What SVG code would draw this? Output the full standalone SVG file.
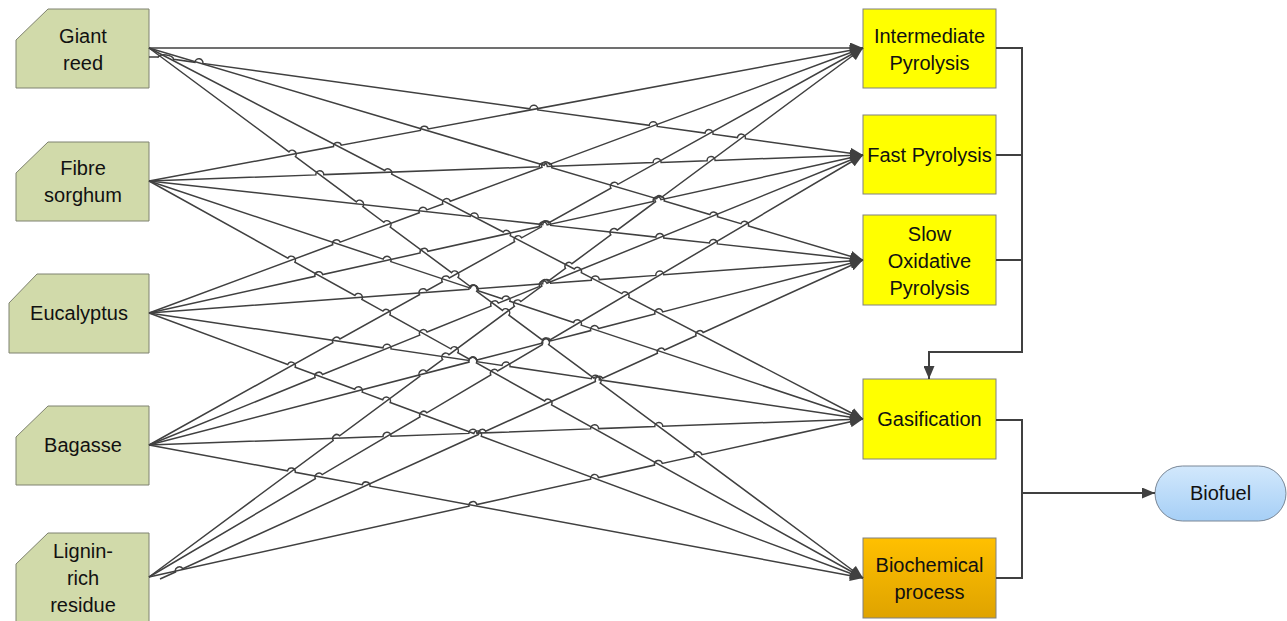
<svg xmlns="http://www.w3.org/2000/svg" width="1287" height="621" viewBox="0 0 1287 621">
  <defs>
    <style>
      .src { fill: #d1daaa; stroke: #7f8270; stroke-width: 1; }
      .proc { fill: #ffff00; stroke: #808080; stroke-width: 1; }
      .lbl { font-family: "Liberation Sans", Arial, sans-serif; font-size: 20px; fill: #111; text-anchor: middle; }
      .fan path { fill: none; stroke: #404040; stroke-width: 1.5; marker-end: url(#arrow); }
      .trunk path { fill: none; stroke: #404040; stroke-width: 2; }
      .trunk path.to { marker-end: url(#arrow); }
    </style>
    <marker id="arrow" markerUnits="userSpaceOnUse" markerWidth="13" markerHeight="11" refX="13" refY="5.5" orient="auto">
      <path d="M0,0 L13,5.5 L0,11 Z" fill="#404040"/>
    </marker>
    <linearGradient id="orange" x1="0" y1="0" x2="0" y2="1">
      <stop offset="0" stop-color="#ffc000"/>
      <stop offset="1" stop-color="#dfa300"/>
    </linearGradient>
    <linearGradient id="blue" x1="0" y1="0" x2="0" y2="1">
      <stop offset="0" stop-color="#d2e8fc"/>
      <stop offset="1" stop-color="#a6cff6"/>
    </linearGradient>
  </defs>

  <!-- feedstocks -->
  <g id="giant-reed">
    <path class="src" d="M16,40 L48,9 H149 V88 H16 Z"/>
    <text class="lbl" x="83" y="43">Giant</text>
    <text class="lbl" x="83" y="70">reed</text>
  </g>
  <g id="fibre-sorghum">
    <path class="src" d="M16,173 L48,142 H149 V221 H16 Z"/>
    <text class="lbl" x="83" y="175">Fibre</text>
    <text class="lbl" x="83" y="202">sorghum</text>
  </g>
  <g id="eucalyptus">
    <path class="src" d="M9,303 L37,274 H149 V353 H9 Z"/>
    <text class="lbl" x="79" y="320">Eucalyptus</text>
  </g>
  <g id="bagasse">
    <path class="src" d="M16,437 L48,406 H149 V485 H16 Z"/>
    <text class="lbl" x="83" y="452">Bagasse</text>
  </g>
  <g id="lignin-rich-residue">
    <path class="src" d="M16,564 L48,533 H149 V623 H16 Z"/>
    <text class="lbl" x="83" y="558">Lignin-</text>
    <text class="lbl" x="83" y="585">rich</text>
    <text class="lbl" x="83" y="612">residue</text>
  </g>

  <!-- conversion routes -->
  <g id="intermediate-pyrolysis">
    <rect class="proc" x="863" y="9" width="133" height="79"/>
    <text class="lbl" x="929.5" y="43">Intermediate</text>
    <text class="lbl" x="929.5" y="70">Pyrolysis</text>
  </g>
  <g id="fast-pyrolysis">
    <rect class="proc" x="863" y="115" width="133" height="79"/>
    <text class="lbl" x="929.5" y="162">Fast Pyrolysis</text>
  </g>
  <g id="slow-oxidative-pyrolysis">
    <rect class="proc" x="863" y="215" width="133" height="90"/>
    <text class="lbl" x="929.5" y="241">Slow</text>
    <text class="lbl" x="929.5" y="268">Oxidative</text>
    <text class="lbl" x="929.5" y="295">Pyrolysis</text>
  </g>
  <g id="gasification">
    <rect class="proc" x="863" y="379" width="133" height="80"/>
    <text class="lbl" x="929.5" y="426">Gasification</text>
  </g>
  <g id="biochemical-process">
    <rect x="863" y="538" width="133" height="80" fill="url(#orange)" stroke="#808080" stroke-width="1"/>
    <text class="lbl" x="929.5" y="572">Biochemical</text>
    <text class="lbl" x="929.5" y="599">process</text>
  </g>

  <!-- product -->
  <g id="biofuel">
    <rect x="1155" y="466" width="131" height="55" rx="27.5" ry="27.5" fill="url(#blue)" stroke="#7a8796" stroke-width="1"/>
    <text class="lbl" x="1220.5" y="500">Biofuel</text>
  </g>

  <!-- feedstock-to-route links, with line jumps at crossings -->
  <g id="connectors" class="fan">
    <path d="M149,48 H863"/>
    <path d="M149,57 H157 L158.1,57.2 A8 4 8 0 1 173.7,59.3 L194.9,62.3 A4 4 0 0 1 202.9,63.4 L529.8,108.8 A4 4 0 0 1 537.8,109.9 L649.2,125.3 A4 4 0 0 1 657.2,126.4 L705,133.1 A4 4 0 0 1 713,134.2 L737.4,137.6 A4 4 0 0 1 745.4,138.7 L863,155"/>
    <path d="M149,48 L544.2,165.3 A4 4 0 0 1 551.8,167.6 L656.6,198.7 A4 4 0 0 1 664.2,201 L709.9,214.5 A4 4 0 0 1 717.5,216.8 L740.9,223.7 A4 4 0 0 1 748.5,226 L863,260"/>
    <path d="M149,48 L384.7,170.5 A4 4 0 0 1 391.7,174.1 L503.2,232 A4 4 0 0 1 510.2,235.7 L574.3,269 A4 4 0 0 1 581.3,272.6 L621.8,293.6 A4 4 0 0 1 628.8,297.3 L863,419"/>
    <path d="M149,48 L289,151.9 A4 4 0 0 1 295.4,156.7 L356.4,201.9 A4 4 0 0 1 362.8,206.7 L383.8,222.3 A4 4 0 0 1 390.2,227.1 L451.6,272.6 A4 4 0 0 1 458,277.4 L470.3,286.5 A4 4 0 0 1 476.7,291.3 L502.5,310.4 A4 4 0 0 1 508.9,315.2 L542.2,339.9 A4 4 0 0 1 548.6,344.7 L593.9,378.2 A4 4 0 0 1 600.3,383 L863,578"/>

    <path d="M149,181 L333.5,146.6 A4 4 0 0 1 341.3,145.2 L420.4,130.4 A4 4 0 0 1 428.2,129 L863,48"/>
    <path d="M149,181 L315.8,174.9 A4 4 0 0 1 323.8,174.6 L539.3,166.8 A4 4 0 0 1 547.3,166.5 L653.1,162.6 A4 4 0 0 1 661.1,162.4 L707.1,160.7 A4 4 0 0 1 715.1,160.4 L863,155"/>
    <path d="M149,181 L470.2,216.5 A4 4 0 0 1 478.2,217.4 L542.7,224.6 A4 4 0 0 1 550.7,225.4 L655.8,237.1 A4 4 0 0 1 663.8,238 L709.4,243 A4 4 0 0 1 717.4,243.9 L863,260"/>
    <path d="M149,181 L383.2,259.1 A4 4 0 0 1 390.8,261.6 L470.4,288.1 A4 4 0 0 1 478,290.7 L502.2,298.7 A4 4 0 0 1 509.8,301.3 L573.6,322.5 A4 4 0 0 1 581.2,325.1 L863,419"/>
    <path d="M149,181 L287.9,258.2 A4 4 0 0 1 294.9,262.1 L354.9,295.5 A4 4 0 0 1 361.9,299.4 L382.9,311.1 A4 4 0 0 1 389.9,314.9 L450.8,348.8 A4 4 0 0 1 457.8,352.7 L469.4,359.2 A4 4 0 0 1 476.4,363 L544.6,401 A4 4 0 0 1 551.6,404.8 L863,578"/>

    <path d="M149,313 L332.7,244.8 A4 4 0 0 1 340.2,242.1 L419.3,212.7 A4 4 0 0 1 426.8,209.9 L442.8,204 A4 4 0 0 1 450.3,201.2 L542,167.2 A4 4 0 0 1 549.5,164.4 L863,48"/>
    <path d="M149,313 L314.9,276.3 A4 4 0 0 1 322.7,274.6 L420.1,253 A4 4 0 0 1 427.9,251.3 L539.4,226.6 A4 4 0 0 1 547.2,224.9 L653.2,201.4 A4 4 0 0 1 661,199.7 L863,155"/>
    <path d="M149,313 L468.9,289.3 A4 4 0 0 1 476.9,288.7 L542.7,283.8 A4 4 0 0 1 550.7,283.2 L591.3,280.2 A4 4 0 0 1 599.3,279.6 L655.8,275.4 A4 4 0 0 1 663.8,274.8 L863,260"/>
    <path d="M149,313 L383,347.8 A4 4 0 0 1 391,348.9 L468.9,360.5 A4 4 0 0 1 476.9,361.7 L502,365.4 A4 4 0 0 1 510,366.6 L591.3,378.7 A4 4 0 0 1 599.3,379.8 L863,419"/>
    <path d="M149,313 L287.7,364.5 A4 4 0 0 1 295.2,367.2 L354.7,389.3 A4 4 0 0 1 362.2,392.1 L382.7,399.7 A4 4 0 0 1 390.2,402.5 L473.8,433.5 A4 4 0 0 1 481.3,436.3 L863,578"/>

    <path d="M149,445 L332.9,342.7 A4 4 0 0 1 339.9,338.9 L419.5,294.6 A4 4 0 0 1 426.5,290.7 L442.3,281.9 A4 4 0 0 1 449.3,278 L514.6,241.7 A4 4 0 0 1 521.6,237.8 L541.5,226.8 A4 4 0 0 1 548.5,222.9 L610.9,188.2 A4 4 0 0 1 617.9,184.3 L863,48"/>
    <path d="M149,445 L315.1,377.5 A4 4 0 0 1 322.5,374.5 L419.7,335.1 A4 4 0 0 1 427.1,332 L491,306.1 A4 4 0 0 1 498.4,303.1 L539.6,286.4 A4 4 0 0 1 547,283.3 L863,155"/>
    <path d="M149,445 L469,362.1 A4 4 0 0 1 476.8,360.1 L542.8,343 A4 4 0 0 1 550.6,340.9 L590.7,330.6 A4 4 0 0 1 598.5,328.5 L654.9,313.9 A4 4 0 0 1 662.7,311.9 L863,260"/>
    <path d="M149,445 L383,436.5 A4 4 0 0 1 391,436.2 L468.9,433.4 A4 4 0 0 1 476.9,433.1 L590.6,428.9 A4 4 0 0 1 598.6,428.6 L654.8,426.6 A4 4 0 0 1 662.8,426.3 L863,419"/>
    <path d="M149,445 L287.5,470.8 A4 4 0 0 1 295.3,472.3 L362.2,484.7 A4 4 0 0 1 370,486.2 L863,578"/>

    <path d="M149,577 L333.2,440.5 A4 4 0 0 1 339.6,435.8 L419.8,376.4 A4 4 0 0 1 426.2,371.6 L442.6,359.5 A4 4 0 0 1 449,354.7 L514.4,306.3 A4 4 0 0 1 520.8,301.5 L541.8,286 A4 4 0 0 1 548.2,281.2 L565.5,268.4 A4 4 0 0 1 571.9,263.7 L610.8,234.9 A4 4 0 0 1 617.2,230.1 L655.5,201.7 A4 4 0 0 1 661.9,197 L863,48"/>
    <path d="M149,577 L315.4,478.7 A4 4 0 0 1 322.2,474.6 L420,416.9 A4 4 0 0 1 426.8,412.8 L490.8,375 A4 4 0 0 1 497.6,370.9 L542.3,344.6 A4 4 0 0 1 549.1,340.5 L863,155"/>
    <path d="M160,579 L175.5,572 A4 4 0 0 1 182.7,568.7 L478.4,434.5 A4 4 0 0 1 485.6,431.2 L595.4,381.5 A4 4 0 0 1 602.6,378.2 L657.4,353.3 A4 4 0 0 1 664.6,350 L696,335.8 A4 4 0 0 1 703.2,332.5 L863,260"/>
    <path d="M149,577 L469,506.2 A4 4 0 0 1 476.8,504.5 L590.7,479.3 A4 4 0 0 1 598.5,477.5 L654.5,465.1 A4 4 0 0 1 662.3,463.4 L694.1,456.4 A4 4 0 0 1 701.9,454.7 L863,419"/>
  </g>

  <!-- route-to-route and route-to-product links -->
  <g id="trunk-connectors" class="trunk">
    <path class="to" d="M996,48 H1022 V352 H929 V379"/>
    <path d="M996,155 H1022"/>
    <path d="M996,260 H1022"/>
    <path class="to" d="M996,420 H1022 V493 H1155"/>
    <path d="M996,578 H1022 V493"/>
  </g>
</svg>
